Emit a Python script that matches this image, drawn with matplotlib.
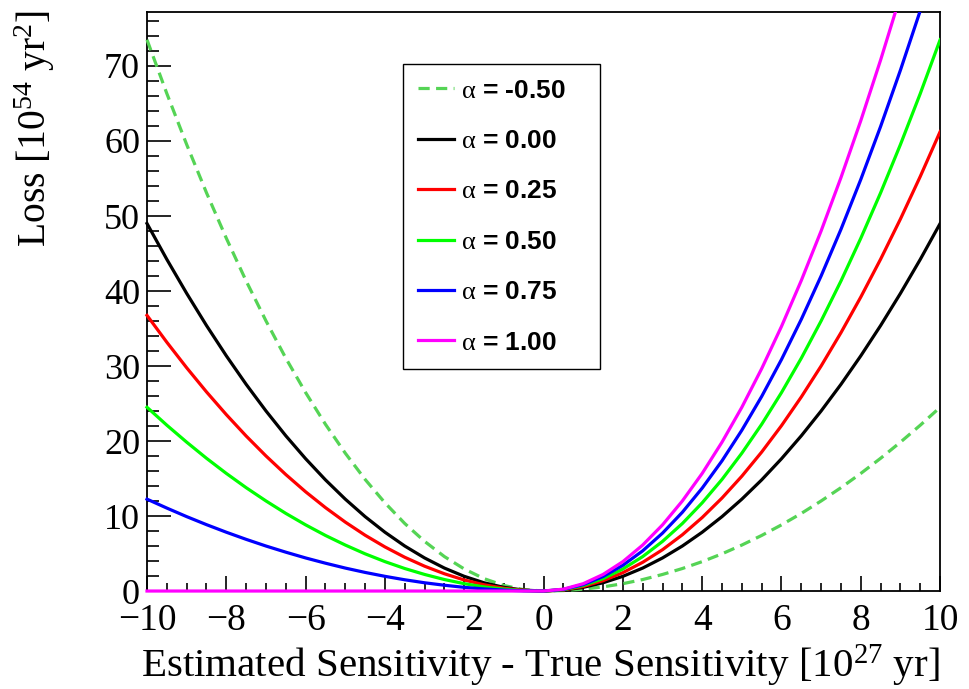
import numpy as np
import matplotlib
matplotlib.use('Agg')
import matplotlib.pyplot as plt
from matplotlib.ticker import MultipleLocator
from matplotlib.transforms import Bbox, TransformedBbox

plt.rcParams['font.family'] = ['Liberation Serif', 'DejaVu Serif']
plt.rcParams['mathtext.fontset'] = 'custom'
plt.rcParams['mathtext.rm'] = 'Liberation Serif'
plt.rcParams['mathtext.it'] = 'Liberation Serif:italic'
plt.rcParams['mathtext.bf'] = 'Liberation Serif:bold'

# x grid, estimated - true sensitivity [1e27 yr]
x = np.arange(-10, 10.01, 0.5)

# loss values [1e54 yr^2]
loss_m050 = [73.50, 66.33, 59.54, 53.10, 47.04, 41.34, 36.02, 31.05, 26.46, 22.23, 18.38,
             14.88, 11.76, 9.00, 6.62, 4.59, 2.94, 1.65, 0.74, 0.18, 0.00,
             0.06, 0.25, 0.55, 0.98, 1.53, 2.21, 3.00, 3.92, 4.96, 6.13,
             7.41, 8.82, 10.35, 12.01, 13.78, 15.68, 17.70, 19.85, 22.11, 24.50]
loss_000 = [49.00, 44.22, 39.69, 35.40, 31.36, 27.56, 24.01, 20.70, 17.64, 14.82, 12.25,
            9.92, 7.84, 6.00, 4.41, 3.06, 1.96, 1.10, 0.49, 0.12, 0.00,
            0.12, 0.49, 1.10, 1.96, 3.06, 4.41, 6.00, 7.84, 9.92, 12.25,
            14.82, 17.64, 20.70, 24.01, 27.56, 31.36, 35.40, 39.69, 44.22, 49.00]
loss_025 = [36.75, 33.17, 29.77, 26.55, 23.52, 20.67, 18.01, 15.53, 13.23, 11.12, 9.19,
            7.44, 5.88, 4.50, 3.31, 2.30, 1.47, 0.83, 0.37, 0.09, 0.00,
            0.15, 0.61, 1.38, 2.45, 3.83, 5.51, 7.50, 9.80, 12.40, 15.31,
            18.53, 22.05, 25.88, 30.01, 34.45, 39.20, 44.25, 49.61, 55.28, 61.25]
loss_050 = [24.50, 22.11, 19.85, 17.70, 15.68, 13.78, 12.01, 10.35, 8.82, 7.41, 6.13,
            4.96, 3.92, 3.00, 2.21, 1.53, 0.98, 0.55, 0.25, 0.06, 0.00,
            0.18, 0.74, 1.65, 2.94, 4.59, 6.62, 9.00, 11.76, 14.88, 18.38,
            22.23, 26.46, 31.05, 36.02, 41.34, 47.04, 53.10, 59.54, 66.33, 73.50]
loss_075 = [12.25, 11.06, 9.92, 8.85, 7.84, 6.89, 6.00, 5.18, 4.41, 3.71, 3.06,
            2.48, 1.96, 1.50, 1.10, 0.77, 0.49, 0.28, 0.12, 0.03, 0.00,
            0.21, 0.86, 1.93, 3.43, 5.36, 7.72, 10.50, 13.72, 17.36, 21.44,
            25.94, 30.87, 36.23, 42.02, 48.23, 54.88, 61.95, 69.46, 77.39, 85.75]
loss_100 = [0.00] * 21 + [0.25, 0.98, 2.21, 3.92, 6.13, 8.82, 12.01, 15.68, 19.85, 24.50,
                          29.65, 35.28, 41.41, 48.02, 55.13, 62.72, 70.81, 79.38, 88.45, 98.00]

labels = ['-0.50', '0.00', '0.25', '0.50', '0.75', '1.00']
colors = ['#55d455', 'black', '#ff0000', '#00ff00', '#0000ff', '#ff00ff']

fig = plt.figure(figsize=(9.69, 6.89), dpi=100)
ax = fig.add_axes([0.1517, 0.1422, 0.8185, 0.8404])

# let the curves spill a little below the frame, like the original
clipbox = TransformedBbox(Bbox([[-0.005, -0.01], [1.0, 1.0]]), ax.transAxes)

series = [loss_m050, loss_000, loss_025, loss_050, loss_075, loss_100]
for i, (y, lab, col) in enumerate(zip(series, labels, colors)):
    ls = '--' if i == 0 else '-'
    line, = ax.plot(x, y, ls, color=col, lw=2.3, zorder=3,
                    label=r'$\mathrm{\alpha}$ = ' + lab)
    line.set_clip_box(clipbox)
    if i == 0:
        line.set_dashes((3.5, 2.0))

ax.set_xlim(-10, 10)
ax.set_ylim(0, 77.2)
ax.xaxis.set_major_locator(MultipleLocator(2))
ax.xaxis.set_minor_locator(MultipleLocator(0.5))
ax.yaxis.set_major_locator(MultipleLocator(10))
ax.yaxis.set_minor_locator(MultipleLocator(2))
ax.tick_params(which='both', direction='in', top=False, right=False, width=1.2)
ax.tick_params(axis='y', which='major', length=17, labelsize=26, pad=5)
ax.tick_params(axis='y', which='minor', length=8.5)
ax.tick_params(axis='x', which='major', length=11, labelsize=27, pad=9)
ax.tick_params(axis='x', which='minor', length=5.5)
for sp in ax.spines.values():
    sp.set_linewidth(1.3)

fig.text(0.9700, 0.0165, r'Estimated Sensitivity - True Sensitivity [10$^{27}$ yr]',
         ha='right', va='baseline', fontsize=29.5)
fig.text(0.0588, 0.9855, r'Loss [10$^{54}$ yr$^{2}$]', rotation=90,
         ha='right', va='top', fontsize=28.5)

leg = ax.legend(loc='upper left', bbox_to_anchor=(0.323, 0.910, 0.2484, 0.0), mode='expand',
                prop={'family': 'Liberation Sans', 'weight': 'bold', 'size': 19},
                handlelength=1.36, handletextpad=0.3, labelspacing=1.0,
                borderpad=0.55, borderaxespad=0, fancybox=False, framealpha=1)
leg.get_frame().set_edgecolor('black')
leg.get_frame().set_linewidth(1.0)

plt.savefig('out.png', dpi=100)
